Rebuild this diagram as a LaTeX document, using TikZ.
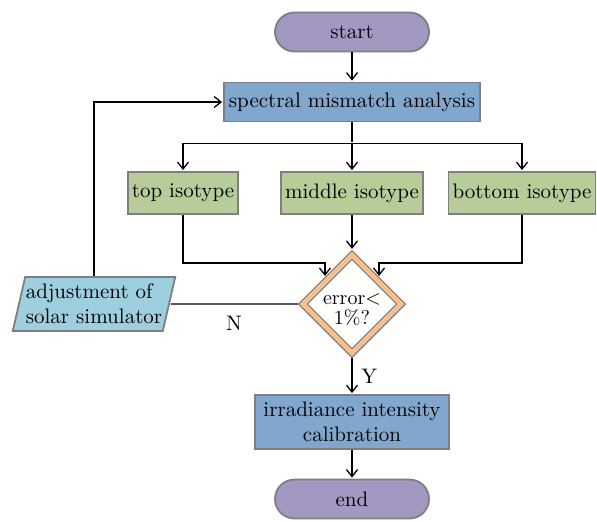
\documentclass[tikz,border=0pt]{standalone}
\usetikzlibrary{shapes.geometric, positioning, arrows.meta}

\definecolor{edgegray}{HTML}{7F7F7F}
\definecolor{termpurple}{HTML}{A398C1}
\definecolor{procblue}{HTML}{82A7CE}
\definecolor{isogreen}{HTML}{B6CD99}
\definecolor{ioblue}{HTML}{9DCFDF}
\definecolor{diaorange}{HTML}{F8BE8E}

\begin{document}
\begin{tikzpicture}[>={Straight Barb[length=3.5pt, width=5.5pt]}, shorten >=0.5pt,
    node distance=40pt, on grid, auto, line width=0.65pt,
    every node/.style={font=\fontsize{10.5}{12.5}\selectfont},
    box/.style={draw=edgegray, line width=0.9pt, minimum height=19.5pt, inner xsep=2pt},
    term/.style={box, rounded corners=9.75pt, fill=termpurple, minimum width=77pt},
    proc/.style={box, fill=procblue, align=center},
    iso/.style={box, fill=isogreen, minimum height=21pt},
    io/.style={box, trapezium, trapezium left angle=77, trapezium right angle=103,
        trapezium stretches=true, fill=ioblue, align=left, inner xsep=0pt,
        minimum width=81.5pt, minimum height=27pt},
    decision/.style={diamond, draw=edgegray, double=diaorange, double distance=2.4pt,
        fill=white, minimum size=50.5pt, inner sep=-2pt, align=center, outer sep=1.8pt,
        font=\fontsize{10}{10}\selectfont}]

    \useasboundingbox (-176pt,16pt) rectangle (122.5pt,-244.5pt);

    \node[term] (start) {start};
    \node[proc, minimum width=128pt] (spec) [below=35pt of start] {spectral mismatch analysis};
    \node[iso] (mid) [below=45.5pt of spec] {middle isotype};
    \node[iso] (top) [left=84.5pt of mid] {top isotype};
    \node[iso] (bot) [right=85pt of mid] {bottom isotype};
    \node[decision] (err) [below=55.5pt of mid] {\rule{0pt}{11.5pt}error<\\1\%?};
    \node[io] (adj) [left=129pt of err] {adjustment of\\solar simulator};
    \node[proc, minimum width=97pt, minimum height=27pt] (calib) [below=59pt of err] {irradiance intensity\\calibration};
    \node[term] (stop) [below=38.5pt of calib] {end};

    \draw[->] (start) -- (spec);
    \draw (spec.south) -- ++(0,-10.5pt) coordinate (fork);
    \draw[->] (fork) -| (top.north);
    \draw[->] (fork) -- (mid.north);
    \draw[->] (fork) -| (bot.north);

    \draw[->] (top.south) |- ([yshift=7pt]err.north west) -- (err.north west);
    \draw[->] (mid.south) -- (err.north);
    \draw[->] (bot.south) |- ([yshift=7pt]err.north east) -- (err.north east);

    \draw (err.west) -- node[below=2.5pt] {N} (adj.east);
    \draw[->] (adj.north) |- (spec.west);
    \draw[->] (err.south) -- node[right=1pt] {Y} (calib.north);
    \draw[->] (calib) -- (stop);
\end{tikzpicture}
\end{document}
